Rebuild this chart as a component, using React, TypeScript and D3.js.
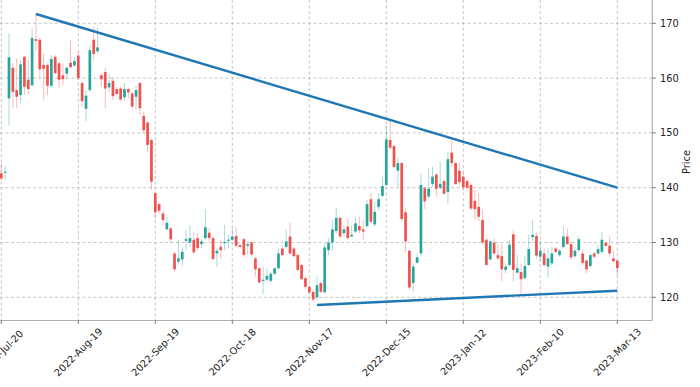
import { useEffect, useRef } from 'react';
import * as d3 from 'd3';

// candles, one per trading day, index 0 = 2022-Jul-20
const OPEN = [
  142.6, 142.8, 156.3, 161.9, 157.8, 156.9, 163.9, 159.7, 158.7, 167.1,
  167.0, 162.4, 162.4, 158.6, 163.9, 162.7, 160.5, 160.8, 162.8, 162.3,
  164.1, 159.1, 154.4, 157.8, 167.0, 164.9, 160.5, 161.1, 158.3, 159.5,
  158.0, 158.1, 156.5, 158.0, 157.2, 156.6, 159.1, 153.1, 151.9, 148.7,
  139.0, 137.0, 135.3, 132.4, 132.6, 128.0, 126.5, 126.9, 130.3, 130.0,
  130.5, 130.8, 129.7, 130.8, 131.8, 130.8, 128.0, 129.2, 129.9, 130.4,
  130.5, 131.2, 129.5, 130.6, 129.4, 130.0, 127.1, 125.3, 123.0, 123.2,
  123.0, 124.3, 125.3, 128.9, 129.2, 131.1, 128.9, 127.7, 125.9, 123.5,
  121.9, 121.0, 120.0, 122.6, 120.9, 128.6, 130.0, 132.1, 134.5, 131.7,
  132.9, 131.1, 132.0, 133.0, 132.4, 133.0, 137.9, 133.3, 136.5, 138.5,
  140.5, 148.7, 147.6, 143.1, 144.5, 135.5, 128.5, 122.6, 126.3, 128.0,
  139.9, 138.4, 140.7, 142.4, 140.0, 141.2, 139.2, 146.4, 144.5, 143.1,
  142.0, 141.2, 140.5, 137.6, 136.5, 134.1, 130.5, 126.9, 130.0, 127.7,
  127.5, 125.0, 125.9, 131.5, 124.5, 124.6, 123.5, 125.9, 131.0, 131.2,
  127.4, 128.0, 125.6, 126.2, 128.9, 127.7, 129.2, 131.1, 129.7, 127.5,
  128.6, 128.0, 126.7, 125.7, 128.0, 128.0, 128.3, 129.9, 129.4, 127.1,
  126.7,
];
const HIGH = [
  144.3, 144.0, 168.2, 162.8, 163.6, 163.3, 164.0, 163.3, 169.1, 171.8,
  167.3, 164.5, 162.7, 164.2, 164.2, 163.0, 162.7, 162.1, 167.0, 163.9,
  164.8, 159.4, 157.8, 166.0, 169.4, 169.2, 160.9, 161.8, 160.7, 160.1,
  158.4, 158.4, 159.1, 158.3, 157.5, 158.7, 159.2, 153.9, 152.1, 149.0,
  139.3, 137.3, 135.9, 134.7, 132.8, 128.3, 130.5, 129.2, 132.3, 133.2,
  132.0, 131.7, 130.5, 136.1, 132.6, 131.1, 128.9, 130.5, 133.2, 131.4,
  132.6, 132.8, 129.9, 130.8, 130.2, 130.2, 127.4, 125.6, 125.5, 125.3,
  124.7, 125.5, 128.8, 129.5, 132.3, 133.6, 129.2, 128.0, 126.2, 123.8,
  122.2, 121.3, 123.8, 122.9, 129.9, 130.8, 134.1, 136.3, 134.7, 133.2,
  134.4, 133.2, 134.7, 134.7, 134.1, 137.8, 139.0, 137.5, 139.0, 142.0,
  151.3, 152.4, 147.8, 145.4, 144.6, 136.2, 128.6, 126.2, 128.0, 142.6,
  140.2, 143.5, 143.8, 142.6, 144.8, 141.5, 146.6, 148.8, 144.6, 144.6,
  142.9, 141.5, 140.8, 139.6, 139.0, 136.0, 130.8, 130.5, 130.8, 129.6,
  129.7, 126.2, 130.5, 132.3, 127.7, 126.2, 127.6, 131.4, 134.1, 131.8,
  130.2, 128.9, 128.9, 129.2, 129.2, 128.8, 132.9, 132.6, 130.2, 129.2,
  131.1, 128.8, 126.9, 128.0, 128.3, 129.6, 132.0, 130.2, 131.1, 128.5,
  126.9,
];
const LOW = [
  141.4, 141.5, 151.4, 154.5, 154.5, 155.4, 156.9, 157.1, 158.4, 165.1,
  160.0, 156.1, 156.9, 158.4, 160.6, 158.3, 158.7, 159.8, 161.8, 162.1,
  159.7, 154.8, 152.1, 157.5, 163.2, 164.5, 158.4, 154.5, 157.5, 156.0,
  156.9, 155.7, 156.0, 156.3, 154.3, 154.2, 153.3, 150.0, 146.6, 139.6,
  134.4, 135.3, 133.2, 132.3, 129.9, 124.7, 125.9, 125.6, 128.6, 129.2,
  128.0, 128.6, 128.9, 130.5, 130.2, 126.8, 125.6, 127.0, 128.6, 128.9,
  130.3, 129.1, 128.9, 127.3, 127.7, 127.6, 123.8, 122.6, 120.6, 122.9,
  122.7, 124.1, 125.0, 127.5, 128.9, 127.7, 127.3, 124.7, 123.2, 121.6,
  120.6, 119.2, 119.5, 120.7, 120.7, 127.7, 128.6, 131.7, 130.8, 131.1,
  130.5, 131.0, 131.7, 131.7, 130.5, 132.6, 133.5, 133.0, 135.9, 138.2,
  140.2, 146.9, 143.5, 140.2, 133.8, 128.3, 121.3, 121.0, 126.2, 127.5,
  136.1, 138.1, 140.2, 138.4, 139.6, 138.7, 137.0, 143.8, 140.5, 140.5,
  139.6, 139.6, 135.9, 134.2, 133.9, 129.6, 125.7, 126.8, 127.7, 126.8,
  122.9, 124.4, 125.6, 122.9, 124.3, 120.6, 123.3, 125.7, 130.2, 127.1,
  126.5, 125.5, 123.6, 125.9, 128.0, 127.4, 128.9, 129.6, 126.9, 127.3,
  128.3, 125.9, 124.4, 125.5, 127.1, 127.7, 128.0, 129.2, 127.4, 126.3,
  123.9,
];
const CLOSE = [
  141.7, 142.9, 163.8, 157.5, 156.6, 162.5, 158.4, 158.0, 167.3, 166.8,
  161.6, 161.7, 158.6, 163.5, 160.9, 159.7, 159.8, 161.9, 162.0, 163.1,
  160.0, 155.8, 156.8, 165.1, 164.4, 165.6, 159.8, 158.1, 159.1, 156.7,
  157.1, 156.1, 158.0, 157.4, 154.8, 157.8, 154.5, 150.5, 147.8, 141.1,
  135.5, 135.8, 134.1, 133.6, 130.6, 125.1, 127.1, 128.3, 130.6, 130.8,
  128.2, 129.0, 130.2, 132.8, 130.8, 127.0, 128.5, 128.6, 130.1, 130.5,
  131.1, 129.4, 129.2, 127.7, 129.7, 127.8, 125.1, 122.7, 123.2, 123.9,
  124.3, 125.3, 128.0, 127.7, 130.2, 128.0, 127.5, 125.0, 123.3, 121.9,
  120.9, 119.6, 122.2, 121.0, 129.1, 130.0, 132.4, 134.5, 131.1, 132.4,
  130.8, 131.4, 133.5, 132.2, 132.0, 137.0, 133.8, 135.6, 137.9, 140.3,
  148.8, 147.3, 143.8, 144.5, 134.3, 130.2, 121.8, 125.6, 127.3, 140.5,
  137.5, 139.8, 142.0, 139.8, 140.7, 138.9, 145.2, 144.5, 140.7, 141.0,
  140.1, 140.0, 136.2, 136.1, 134.7, 130.0, 125.9, 130.2, 128.0, 127.1,
  125.1, 125.6, 129.6, 125.0, 125.3, 123.3, 125.7, 128.8, 131.4, 127.6,
  128.5, 125.9, 127.1, 128.0, 128.3, 128.5, 131.1, 129.7, 127.3, 128.5,
  130.6, 126.3, 125.1, 127.7, 127.4, 128.8, 130.5, 129.4, 128.0, 126.6,
  125.3,
];

const TICK_INDEX = [0, 20, 40, 60, 80, 100, 120, 140, 160];
const TICK_LABELS = [
  '2022-Jul-20', '2022-Aug-19', '2022-Sep-19', '2022-Oct-18', '2022-Nov-17',
  '2022-Dec-15', '2023-Jan-12', '2023-Feb-10', '2023-Mar-13',
];
const PRICE_TICKS = [120, 130, 140, 150, 160, 170];

// trend lines: [bar index, price]
const UPPER_LINE: [number, number][] = [[9, 171.7], [160, 140.0]];
const LOWER_LINE: [number, number][] = [[82, 118.6], [160, 121.2]];

const UP = '#26a69a';
const DOWN = '#ef5350';

export default function App() {
  const svgRef = useRef<SVGSVGElement>(null);

  useEffect(() => {
    const el = svgRef.current;
    if (!el) return;
    const svg = d3.select(el);
    svg.selectAll('*').remove();

    const W = 700;
    const H = 387;
    const right = 652.3;
    const bottom = 320.5;
    const font = "'DejaVu Sans', sans-serif";

    const x = d3.scaleLinear().domain([0, 160]).range([1.3, 617.3]);
    const y = d3.scaleLinear().domain([120, 170]).range([297.3, 23.3]);

    svg.attr('width', W).attr('height', H);

    const plot = svg.append('g');
    svg.append('defs').append('clipPath').attr('id', 'plot-clip')
      .append('rect').attr('x', 0).attr('y', 0).attr('width', right).attr('height', bottom);
    plot.attr('clip-path', 'url(#plot-clip)');

    // grid
    plot.selectAll('.vgrid').data(TICK_INDEX).enter().append('line')
      .attr('x1', (d) => x(d)).attr('x2', (d) => x(d))
      .attr('y1', 0).attr('y2', bottom)
      .attr('stroke', '#b8b8b8').attr('stroke-width', 0.8).attr('stroke-dasharray', '3,2.5');
    plot.selectAll('.hgrid').data(PRICE_TICKS).enter().append('line')
      .attr('x1', 0).attr('x2', right)
      .attr('y1', (d) => y(d)).attr('y2', (d) => y(d))
      .attr('stroke', '#b8b8b8').attr('stroke-width', 0.8).attr('stroke-dasharray', '3,2.5');

    const bars = OPEN.map((o, i) => ({ i, o, h: HIGH[i], l: LOW[i], c: CLOSE[i] }));
    const bw = 2.7;

    // wicks
    plot.selectAll('.wick').data(bars).enter().append('line')
      .attr('x1', (d) => x(d.i)).attr('x2', (d) => x(d.i))
      .attr('y1', (d) => y(d.h)).attr('y2', (d) => y(d.l))
      .attr('stroke', (d) => (d.c >= d.o ? UP : DOWN))
      .attr('stroke-opacity', 0.4)
      .attr('stroke-width', 1);

    // bodies
    plot.selectAll('.body').data(bars).enter().append('rect')
      .attr('x', (d) => x(d.i) - bw / 2)
      .attr('y', (d) => y(Math.max(d.o, d.c)))
      .attr('width', bw)
      .attr('height', (d) => Math.max(1, Math.abs(y(d.o) - y(d.c))))
      .attr('fill', (d) => (d.c >= d.o ? UP : DOWN));

    // trend lines
    const line = d3.line<[number, number]>().x((d) => x(d[0])).y((d) => y(d[1]));
    [UPPER_LINE, LOWER_LINE].forEach((pts) => {
      plot.append('path').attr('d', line(pts)).attr('fill', 'none')
        .attr('stroke', '#1f77b4').attr('stroke-width', 2.4);
    });

    // spines
    svg.append('line').attr('x1', 0).attr('x2', right).attr('y1', bottom).attr('y2', bottom)
      .attr('stroke', '#b0b0b0').attr('stroke-width', 1.2);
    svg.append('line').attr('x1', right).attr('x2', right).attr('y1', 0).attr('y2', bottom)
      .attr('stroke', '#b0b0b0').attr('stroke-width', 1.2);

    // x ticks
    TICK_INDEX.forEach((t, k) => {
      const tx = x(t);
      svg.append('line').attr('x1', tx).attr('x2', tx).attr('y1', bottom).attr('y2', bottom + 3.5)
        .attr('stroke', '#555').attr('stroke-width', 0.8);
      svg.append('text')
        .attr('transform', `translate(${tx},352) rotate(-45)`)
        .attr('text-anchor', 'middle').attr('dominant-baseline', 'central')
        .attr('font-size', '9.8px').attr('font-family', font).attr('fill', '#222')
        .text(TICK_LABELS[k]);
    });

    // y ticks
    PRICE_TICKS.forEach((p) => {
      svg.append('line').attr('x1', right).attr('x2', right + 3.5).attr('y1', y(p)).attr('y2', y(p))
        .attr('stroke', '#555').attr('stroke-width', 0.8);
      svg.append('text').attr('x', 660).attr('y', y(p))
        .attr('dominant-baseline', 'central')
        .attr('font-size', '9.8px').attr('font-family', font).attr('fill', '#222')
        .text(p);
    });

    svg.append('text')
      .attr('transform', 'translate(686,162) rotate(-90)')
      .attr('text-anchor', 'middle').attr('dominant-baseline', 'central')
      .attr('font-size', '9.8px').attr('font-family', font).attr('fill', '#222')
      .text('Price');
  }, []);

  return (
    <div style={{ position: 'fixed', left: 0, top: 0, background: '#fff' }}>
      <svg ref={svgRef} style={{ display: 'block' }} />
    </div>
  );
}
